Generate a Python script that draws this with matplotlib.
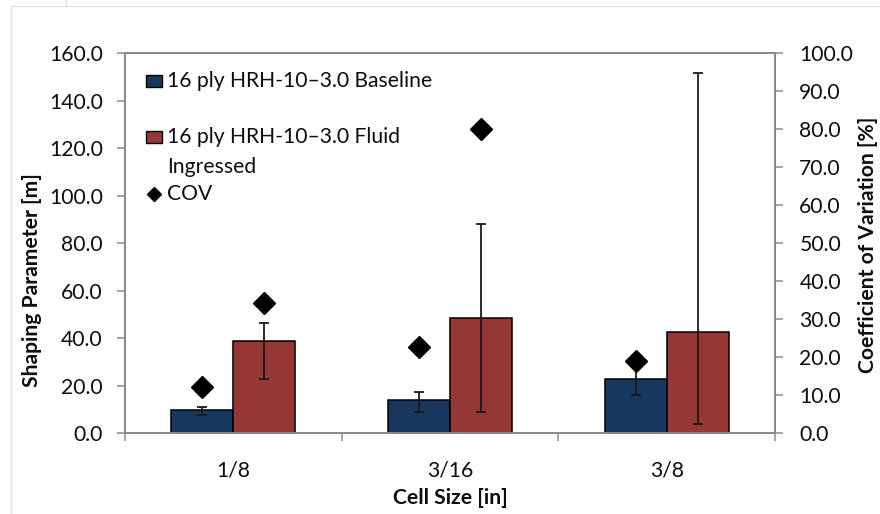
import numpy as np
import matplotlib
matplotlib.use("Agg")
import matplotlib.pyplot as plt
from matplotlib.patches import Rectangle
from matplotlib.lines import Line2D

plt.rcParams['font.family'] = ['Lato', 'DejaVu Sans']

# ---- data ----
categories = ['1/8', '3/16', '3/8']
baseline = [9.8, 14.0, 22.9]
baseline_lo = [7.7, 9.0, 16.1]
baseline_hi = [10.9, 17.3, 29.7]
fluid = [38.9, 48.4, 42.6]
fluid_lo = [23.0, 9.0, 3.9]
fluid_hi = [46.6, 88.0, 151.6]
cov_baseline = [12.1, 22.8, 19.1]
cov_fluid = [34.3, 80.1, np.nan]

label_base = '16 ply HRH-10\u20133.0 Baseline'
label_fluid = '16 ply HRH-10\u20133.0 Fluid\nIngressed'
label_cov = 'COV'

BLUE = '#17375E'
RED = '#953735'
AXIS_GREY = '#8a8a8a'
TEXT = '#0d0d0d'
FS = 15.2

W, H = 880, 514
fig = plt.figure(figsize=(W / 100, H / 100), dpi=100)


def fx(px):
    return px / W


def fy(py):
    return 1 - py / H


ax = fig.add_axes([fx(125), fy(433.3), fx(775) - fx(125), fy(53.3) - fy(433.3)])
ax2 = ax.twinx()

x = np.arange(len(categories))
bw = 0.286

base_err = [np.array(baseline) - np.array(baseline_lo), np.array(baseline_hi) - np.array(baseline)]
fluid_err = [np.array(fluid) - np.array(fluid_lo), np.array(fluid_hi) - np.array(fluid)]

ekw = dict(ecolor='#1a1a1a', elinewidth=1.3, capsize=3.4, capthick=1.3)
ax.bar(x - bw / 2, baseline, bw, color=BLUE, edgecolor='black', linewidth=1.1,
       yerr=base_err, error_kw=ekw, zorder=2)
ax.bar(x + bw / 2, fluid, bw, color=RED, edgecolor='black', linewidth=1.1,
       yerr=fluid_err, error_kw=ekw, zorder=2)

ax2.plot(x - bw / 2, cov_baseline, linestyle='none', marker='D', markersize=11,
         color='black', zorder=5)
ax2.plot(x + bw / 2, cov_fluid, linestyle='none', marker='D', markersize=11,
         color='black', zorder=5)

# ---- axes ----
ax.set_xlim(-0.5, len(categories) - 0.5)
ax.set_ylim(0, 160)
ax2.set_ylim(0, 100)
ax.set_yticks(np.arange(0, 161, 20))
ax.set_yticklabels([f'{v:.1f}' for v in np.arange(0, 161, 20)])
ax2.set_yticks(np.arange(0, 101, 10))
ax2.set_yticklabels([f'{v:.1f}' for v in np.arange(0, 101, 10)])

ax.set_xticks(np.arange(-0.5, len(categories), 1.0))
ax.set_xticklabels([])
ax.set_xticks(x, minor=True)
ax.set_xticklabels(categories, minor=True)
ax.tick_params(axis='x', which='major', direction='out', length=5.5,
               width=1.1, color=AXIS_GREY)
ax.tick_params(axis='x', which='minor', length=0, pad=19.5, labelsize=FS,
               labelcolor=TEXT)
ax.tick_params(axis='y', direction='out', length=5.5, width=1.1, color=AXIS_GREY,
               pad=10.5, labelsize=FS, labelcolor=TEXT)
ax2.tick_params(axis='y', direction='out', length=5.5, width=1.1, color=AXIS_GREY,
                pad=12, labelsize=FS, labelcolor=TEXT)

for a in (ax, ax2):
    for s in a.spines.values():
        s.set_color(AXIS_GREY)
        s.set_linewidth(1.3)

fig.text(fx(450), fy(498), 'Cell Size [in]', ha='center', va='center',
         fontsize=FS, fontweight='bold', color=TEXT)
fig.text(fx(32), fy(280), 'Shaping Parameter [m]', ha='center', va='center',
         rotation=90, fontsize=FS, fontweight='bold', color=TEXT)
fig.text(fx(868), fy(245), 'Coefficient of Variation [%]', ha='center', va='center',
         rotation=90, fontsize=FS, fontweight='bold', color=TEXT)

# ---- legend ----
fig.patches.append(Rectangle((fx(146), fy(87)), fx(16), fy(75) - fy(87),
                             transform=fig.transFigure, facecolor=BLUE,
                             edgecolor='black', linewidth=1.0))
fig.patches.append(Rectangle((fx(146), fy(143)), fx(16), fy(131) - fy(143),
                             transform=fig.transFigure, facecolor=RED,
                             edgecolor='black', linewidth=1.0))
fig.lines.append(Line2D([fx(154)], [fy(194)], transform=fig.transFigure,
                        marker='D', markersize=7.5, color='black', linestyle='none'))
lines_fluid = label_fluid.split('\n')
fig.text(fx(167), fy(86.7), label_base, ha='left', va='baseline', fontsize=FS,
         color=TEXT)
fig.text(fx(167), fy(142.7), lines_fluid[0], ha='left', va='baseline', fontsize=FS,
         color=TEXT)
fig.text(fx(167), fy(173.3), lines_fluid[1], ha='left', va='baseline', fontsize=FS,
         color=TEXT)
fig.text(fx(167), fy(200), label_cov, ha='left', va='baseline', fontsize=FS,
         color=TEXT)

# ---- outer chart frame ----
frame_col = '#e2e2e2'
fig.lines.append(Line2D([fx(11), fx(11)], [fy(6), 0], transform=fig.transFigure,
                        color=frame_col, linewidth=1.0))
fig.lines.append(Line2D([fx(11), 1], [fy(6), fy(6)], transform=fig.transFigure,
                        color=frame_col, linewidth=1.0))
fig.lines.append(Line2D([fx(66), fx(66)], [1, fy(6)], transform=fig.transFigure,
                        color=frame_col, linewidth=1.0))

fig.savefig('out.png', dpi=100)
